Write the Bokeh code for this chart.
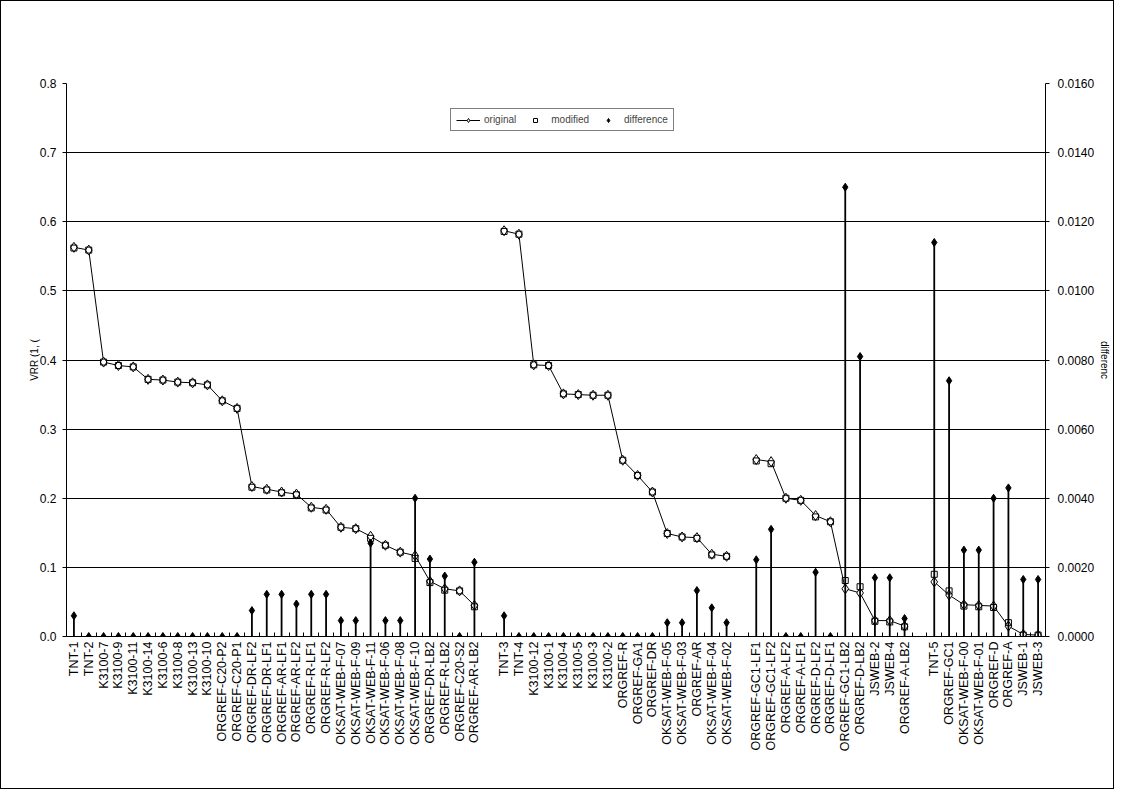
import math
from bokeh.plotting import figure
from bokeh.models import (LinearAxis, Range1d, FixedTicker, Legend, LegendItem,
                          ColumnDataSource, NumeralTickFormatter)
from bokeh.embed import file_html
from bokeh.resources import INLINE

# ---------------- data ----------------
g1_names = ["TNT-1", "TNT-2", "K3100-7", "K3100-9", "K3100-11", "K3100-14", "K3100-6",
            "K3100-8", "K3100-13", "K3100-10", "ORGREF-C20-P2", "ORGREF-C20-P1",
            "ORGREF-DR-LF2", "ORGREF-DR-LF1", "ORGREF-AR-LF1", "ORGREF-AR-LF2",
            "ORGREF-R-LF1", "ORGREF-R-LF2", "OKSAT-WEB-F-07", "OKSAT-WEB-F-09",
            "OKSAT-WEB-F-11", "OKSAT-WEB-F-06", "OKSAT-WEB-F-08", "OKSAT-WEB-F-10",
            "ORGREF-DR-LB2", "ORGREF-R-LB2", "ORGREF-C20-S2", "ORGREF-AR-LB2"]
g1_original = [0.563, 0.559, 0.397, 0.392, 0.390, 0.372, 0.371, 0.368, 0.367, 0.364,
               0.341, 0.330, 0.217, 0.213, 0.209, 0.206, 0.187, 0.184, 0.158, 0.156,
               0.145, 0.132, 0.122, 0.117, 0.080, 0.069, 0.066, 0.045]
g1_modified = [0.562, 0.559, 0.397, 0.392, 0.390, 0.372, 0.371, 0.368, 0.367, 0.364,
               0.341, 0.330, 0.216, 0.212, 0.208, 0.205, 0.186, 0.183, 0.158, 0.156,
               0.142, 0.132, 0.122, 0.113, 0.078, 0.067, 0.066, 0.043]
g1_difference = [0.0006, 0, 0, 0, 0, 0, 0, 0, 0, 0, 0, 0, 0.00075, 0.00122, 0.00122,
                 0.00094, 0.00122, 0.00122, 0.00046, 0.00046, 0.0027, 0.00046, 0.00046,
                 0.0040, 0.00224, 0.00175, 0, 0.00215]

g2_names = ["TNT-3", "TNT-4", "K3100-12", "K3100-1", "K3100-4", "K3100-5", "K3100-3",
            "K3100-2", "ORGREF-R", "ORGREF-GA1", "ORGREF-DR", "OKSAT-WEB-F-05",
            "OKSAT-WEB-F-03", "ORGREF-AR", "OKSAT-WEB-F-04", "OKSAT-WEB-F-02"]
g2_original = [0.587, 0.582, 0.393, 0.392, 0.351, 0.350, 0.349, 0.349, 0.255, 0.233,
               0.209, 0.149, 0.144, 0.143, 0.119, 0.116]
g2_modified = [0.586, 0.582, 0.393, 0.392, 0.351, 0.350, 0.349, 0.349, 0.255, 0.233,
               0.209, 0.149, 0.144, 0.142, 0.118, 0.116]
g2_difference = [0.0006, 0, 0, 0, 0, 0, 0, 0, 0, 0, 0, 0.0004, 0.0004, 0.00133,
                 0.00083, 0.0004]

g3_names = ["ORGREF-GC1-LF1", "ORGREF-GC1-LF2", "ORGREF-A-LF2", "ORGREF-A-LF1",
            "ORGREF-D-LF2", "ORGREF-D-LF1", "ORGREF-GC1-LB2", "ORGREF-D-LB2",
            "JSWEB-2", "JSWEB-4", "ORGREF-A-LB2"]
g3_original = [0.256, 0.253, 0.200, 0.197, 0.175, 0.166, 0.069, 0.063, 0.023, 0.023, 0.015]
g3_modified = [0.254, 0.250, 0.200, 0.197, 0.173, 0.166, 0.081, 0.072, 0.022, 0.021, 0.014]
g3_difference = [0.00222, 0.0031, 0, 0, 0.00186, 0, 0.0130, 0.0081, 0.0017, 0.0017, 0.00052]

g4_names = ["TNT-5", "ORGREF-GC1", "OKSAT-WEB-F-00", "OKSAT-WEB-F-01", "ORGREF-D",
            "ORGREF-A", "JSWEB-1", "JSWEB-3"]
g4_original = [0.079, 0.060, 0.046, 0.045, 0.044, 0.015, 0.003, 0.002]
g4_modified = [0.090, 0.066, 0.044, 0.043, 0.042, 0.020, 0.002, 0.002]
g4_difference = [0.0114, 0.0074, 0.0025, 0.0025, 0.0040, 0.0043, 0.00165, 0.00165]

left_ticks = [0.0, 0.1, 0.2, 0.3, 0.4, 0.5, 0.6, 0.7, 0.8]
right_ticks = [0.0, 0.002, 0.004, 0.006, 0.008, 0.010, 0.012, 0.014, 0.016]

groups = [
    (g1_names, g1_original, g1_modified, g1_difference),
    (g2_names, g2_original, g2_modified, g2_difference),
    (g3_names, g3_original, g3_modified, g3_difference),
    (g4_names, g4_original, g4_modified, g4_difference),
]

# ---------------- positions (one blank category between groups) ----------------
labels = {}
group_sources = []
pos = 1
for gi, (names, orig, mod, diff) in enumerate(groups):
    xs = list(range(pos, pos + len(names)))
    for x, n in zip(xs, names):
        labels[x] = n
    group_sources.append(ColumnDataSource(dict(x=xs, name=names, orig=orig, mod=mod,
                                               diff=diff, zero=[0] * len(xs))))
    pos += len(names)
    if gi < len(groups) - 1:
        labels[pos] = ""
        pos += 1
n_cat = pos - 1

FONT = "Liberation Sans"

p = figure(frame_width=979, frame_height=553, output_backend="svg", toolbar_location=None,
           x_range=Range1d(0.5, n_cat + 0.5), y_range=Range1d(0, 0.8),
           min_border_left=65, min_border_right=60, min_border_top=82,
           min_border_bottom=152)
p.styles = {"border": "1px solid #000000"}
p.outline_line_color = None
p.background_fill_color = "white"
p.border_fill_color = "white"
p.extra_y_ranges = {"diff": Range1d(0, 0.016)}

# x axis
xa = p.xaxis[0]
xa.ticker = FixedTicker(ticks=list(range(1, n_cat + 1)),
                        minor_ticks=[i + 0.5 for i in range(0, n_cat + 1)])
xa.major_label_overrides = labels
xa.major_label_orientation = math.pi / 2
xa.major_tick_in = 0
xa.major_tick_out = 0
xa.minor_tick_in = 4
xa.minor_tick_out = 0
xa.minor_tick_line_color = "black"
xa.axis_line_color = "black"
xa.major_label_text_font = FONT
xa.major_label_text_font_size = "12.5px"
xa.major_label_text_color = "black"
xa.major_label_standoff = 5

# left axis
ya = p.yaxis[0]
ya.ticker = FixedTicker(ticks=left_ticks)
ya.formatter = NumeralTickFormatter(format="0.0")
ya.axis_label = "VRR (1, ("
ya.axis_label_text_font = FONT
ya.axis_label_text_font_size = "10px"
ya.axis_label_text_font_style = "normal"
ya.axis_label_text_color = "black"
ya.axis_label_standoff = -3
ya.major_label_text_font = FONT
ya.major_label_text_font_size = "12px"
ya.major_label_text_color = "black"
ya.major_label_standoff = 6
ya.major_tick_in = 0
ya.major_tick_out = 4
ya.minor_tick_line_color = None
ya.axis_line_color = "black"

# right axis
ra = LinearAxis(y_range_name="diff", ticker=FixedTicker(ticks=right_ticks),
                formatter=NumeralTickFormatter(format="0.0000"),
                axis_label="differenc")
ra.axis_label_text_font = FONT
ra.axis_label_text_font_size = "10px"
ra.axis_label_text_font_style = "normal"
ra.axis_label_text_color = "black"
ra.axis_label_standoff = 2
ra.major_label_text_font = FONT
ra.major_label_text_font_size = "12px"
ra.major_label_text_color = "black"
ra.major_label_standoff = 8
ra.major_tick_in = 0
ra.major_tick_out = 4
ra.minor_tick_line_color = None
ra.axis_line_color = "black"
p.add_layout(ra, "right")

p.xgrid.grid_line_color = None
p.ygrid.grid_line_color = "black"
p.ygrid.grid_line_width = 1

# ---------------- glyphs ----------------
line_r = sq_r = dia_r = diffm_r = None
for src in group_sources:
    lr = p.line("x", "orig", source=src, line_color="black", line_width=1)
    dr = p.scatter("x", "orig", source=src, marker="diamond", size=10,
                   fill_color="white", line_color="black", line_width=1)
    sr = p.scatter("x", "mod", source=src, marker="square", size=6,
                   fill_color=None, line_color="black", line_width=1)
    p.segment(x0="x", y0="zero", x1="x", y1="diff", source=src, y_range_name="diff",
              line_color="black", line_width=1.8)
    mr = p.scatter("x", "diff", source=src, y_range_name="diff", marker="diamond",
                   size=8, fill_color="black", line_color="black")
    if line_r is None:
        line_r, dia_r, sq_r, diffm_r = lr, dr, sr, mr

legend = Legend(items=[LegendItem(label="original", renderers=[line_r, dia_r]),
                       LegendItem(label="modified", renderers=[sq_r]),
                       LegendItem(label="difference", renderers=[diffm_r])],
                orientation="horizontal", location=(384, 505))
legend.border_line_color = "black"
legend.border_line_width = 1
legend.background_fill_color = "white"
legend.background_fill_alpha = 1
legend.label_text_font = FONT
legend.label_text_font_size = "10px"
legend.glyph_width = 24
legend.glyph_height = 10
legend.spacing = 7
legend.padding = 5
legend.margin = 0
legend.label_standoff = 4
p.add_layout(legend)

open("out.html", "w").write(file_html(p, INLINE))
